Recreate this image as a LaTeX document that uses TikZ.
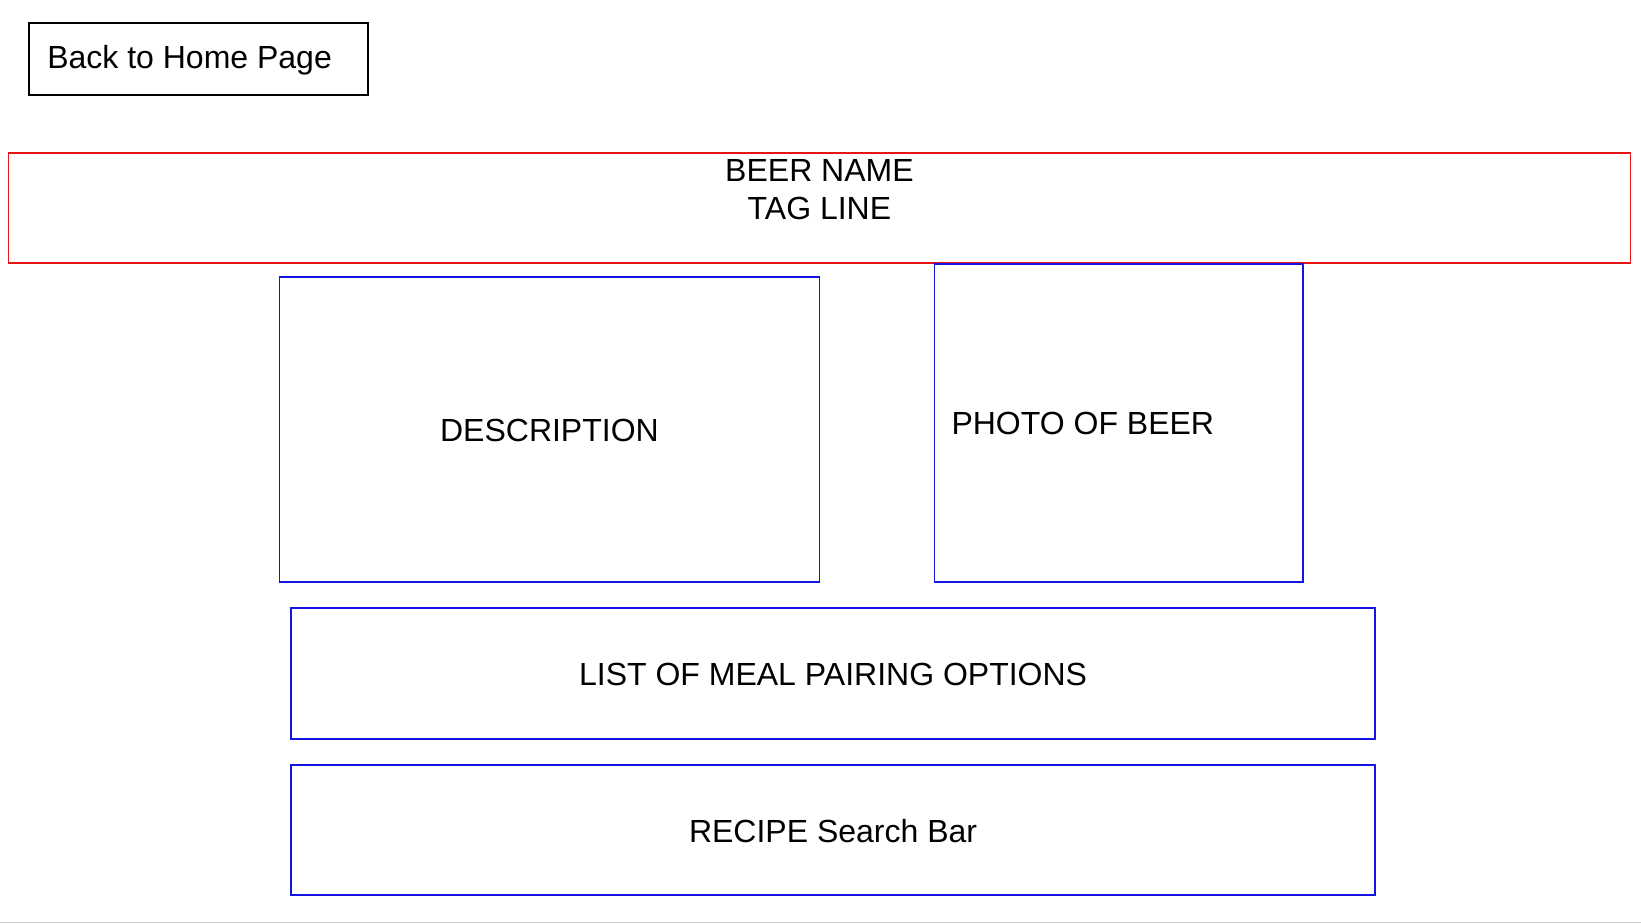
\documentclass[tikz,border=0pt]{standalone}
\usepackage{fontspec}
\setmainfont{Liberation Sans}
\begin{document}
\begin{tikzpicture}[x=1.0466pt,y=-1.0466pt,
  txt/.style={font=\fontsize{32}{38}\selectfont, inner sep=0pt},
  bluebox/.style={draw={rgb,255:red,20;green,20;blue,230}, line width=1.7pt},
  redbox/.style={draw={rgb,255:red,230;green,20;blue,20}, line width=1.7pt},
  blackbox/.style={draw=black, line width=1.9pt}]
\useasboundingbox (0,0) rectangle (1568,882.87);
\fill[white] (0,0) rectangle (1568,882.87);
% back button
\draw[blackbox] (28,22) rectangle (352,91);
\node[txt, anchor=west] (back) at (45,58) {Back to Home Page};
% header
\draw[redbox] (8,146) rectangle (1558,251);
\node[txt] (beer) at (783,163) {BEER NAME};
\node[txt] (tag) at (783,199) {TAG LINE};
% description
\draw[bluebox] (267,265) rectangle (783,556);
\node[txt] (desc) at (525,411) {DESCRIPTION};
% photo
\draw[bluebox] (893,252) rectangle (1245,556);
\node[txt, anchor=west] (photo) at (909,405) {PHOTO OF BEER};
% meal
\draw[bluebox] (278,581) rectangle (1314,706);
\node[txt] (meal) at (796,644) {LIST OF MEAL PAIRING OPTIONS};
% recipe
\draw[bluebox] (278,731) rectangle (1314,855);
\node[txt] (recipe) at (796,794) {RECIPE Search Bar};
% bottom gray rule
\draw[draw={rgb,255:red,205;green,205;blue,205}, line width=1.6pt] (0,881.6) -- (1568,881.6);
\end{tikzpicture}
\end{document}
